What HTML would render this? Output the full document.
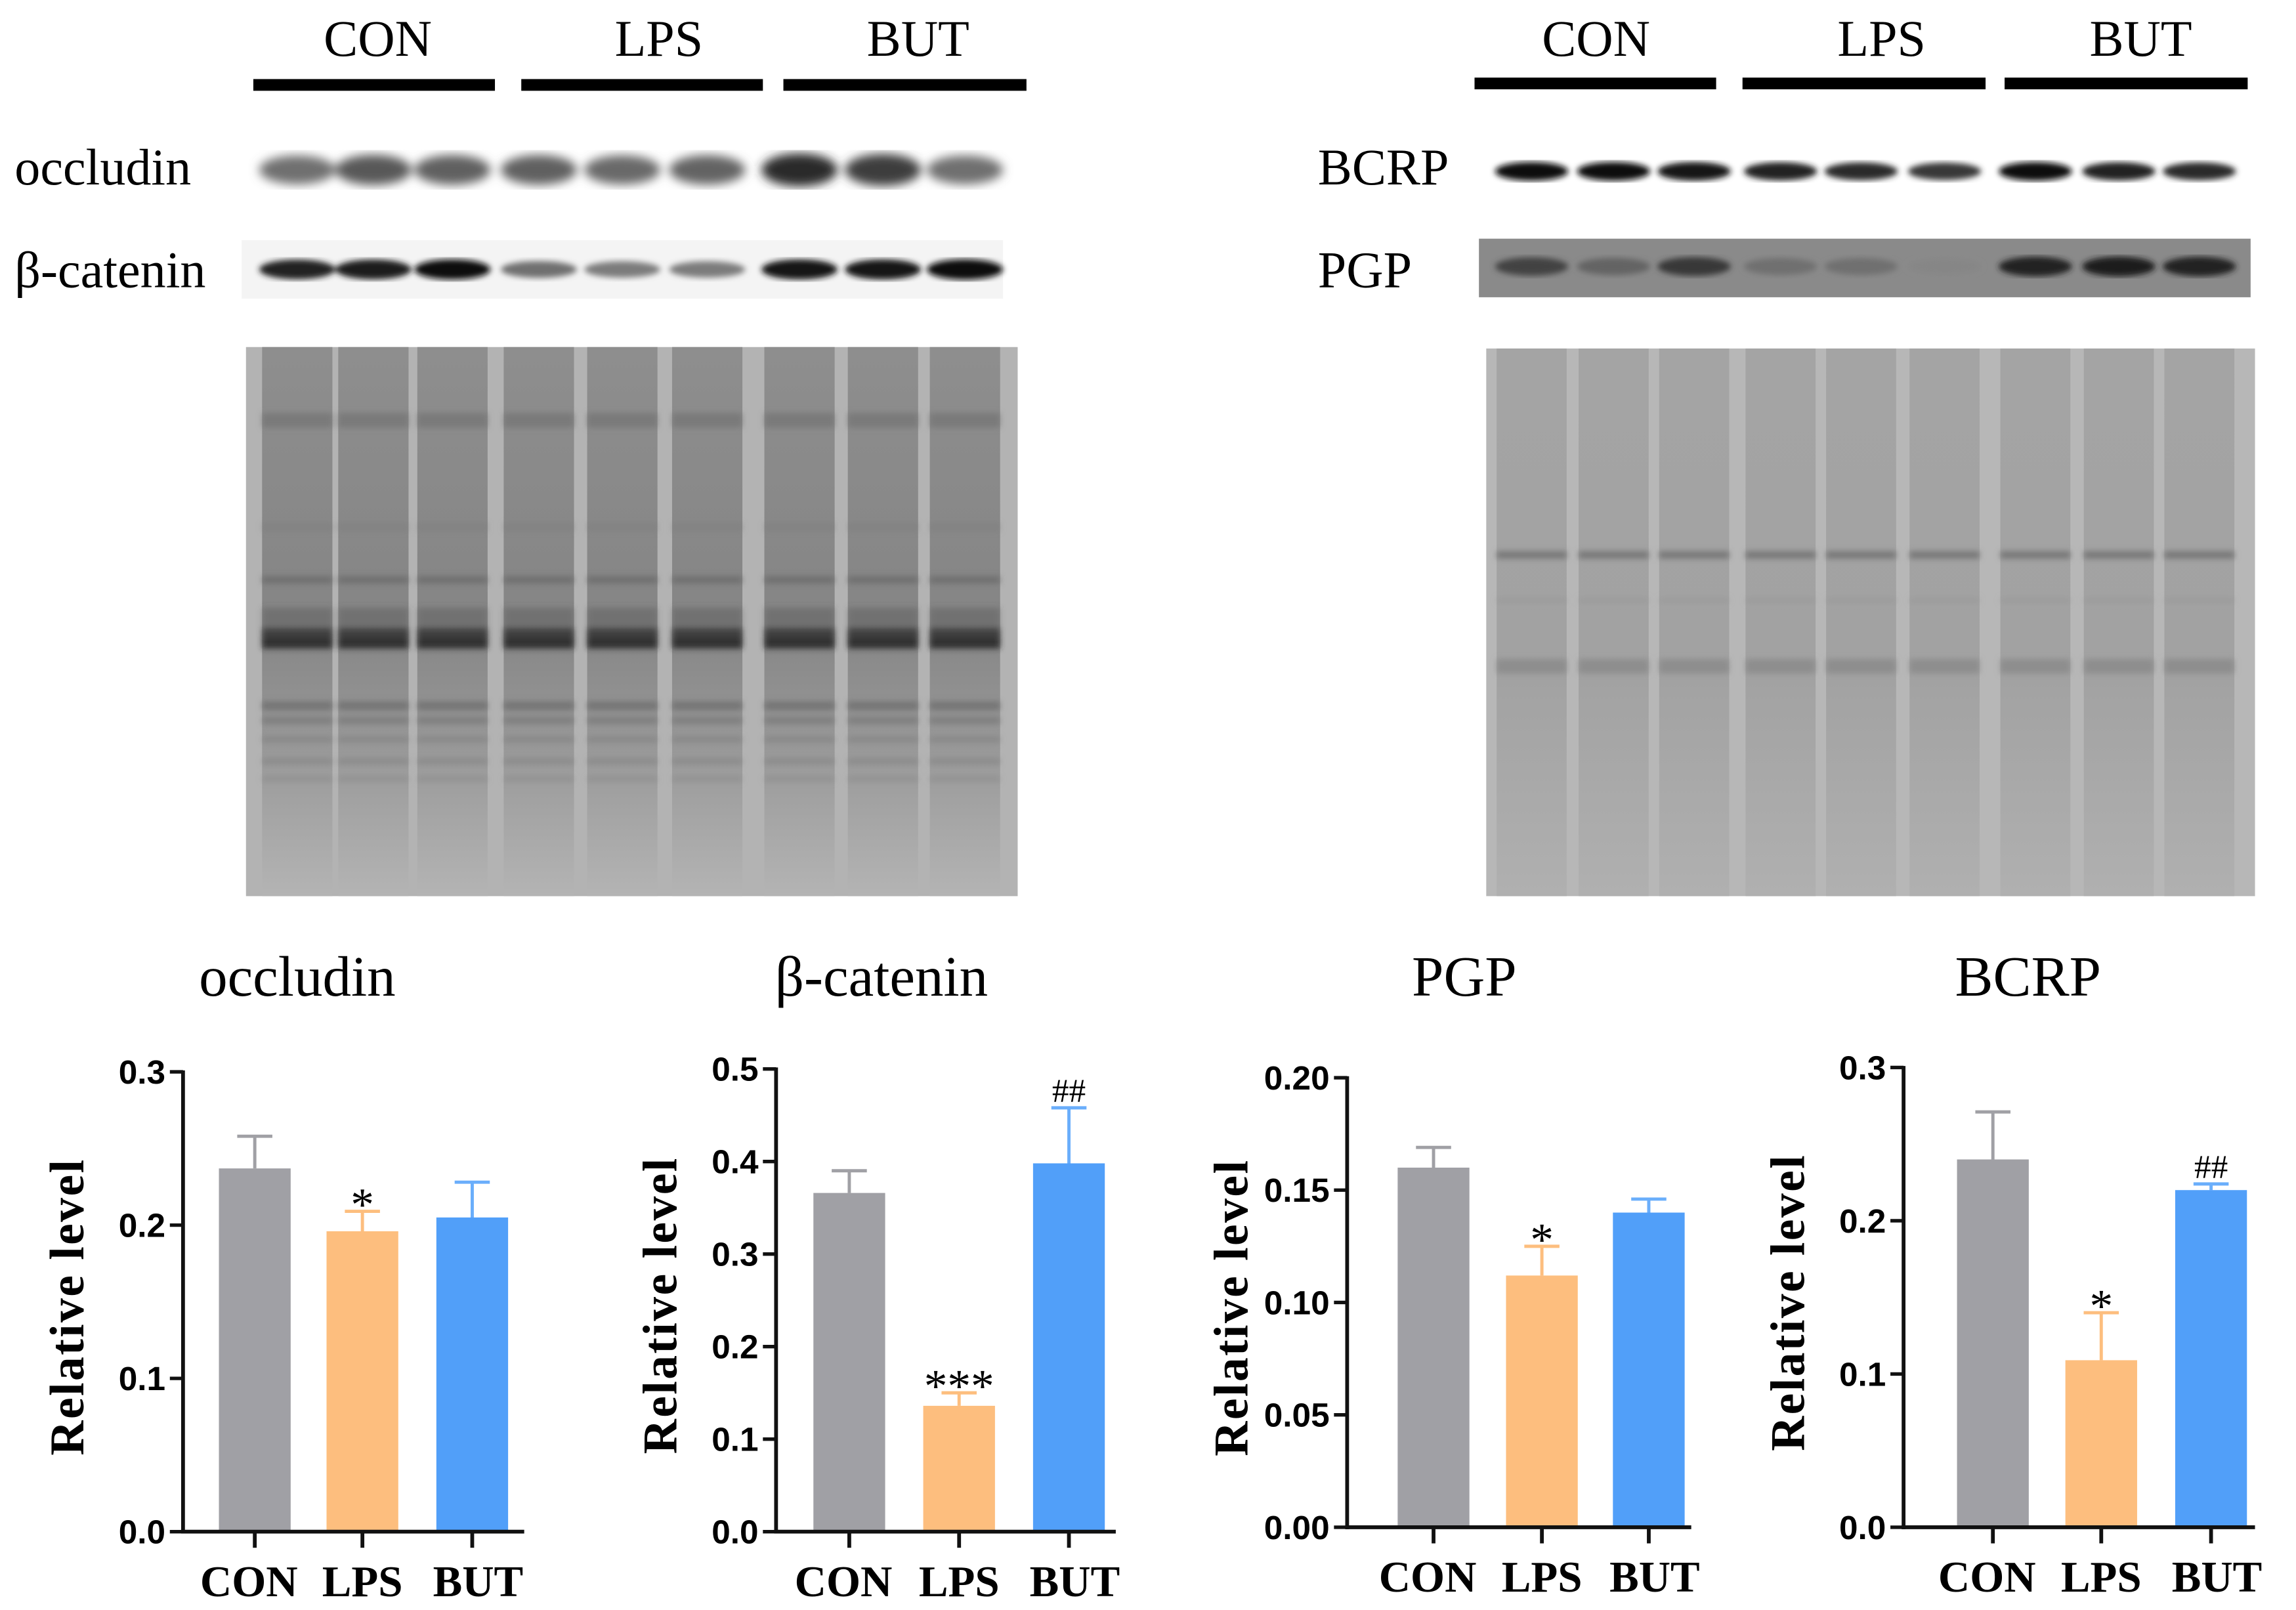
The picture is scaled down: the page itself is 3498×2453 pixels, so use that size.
<!DOCTYPE html>
<html><head><meta charset="utf-8">
<style>
html,body{margin:0;padding:0;background:#fff;}
svg{display:block;}
.serif{font-family:"Liberation Serif",serif;}
.sans{font-family:"Liberation Sans",sans-serif;}
</style></head>
<body>
<svg id="fig" width="3498" height="2453" viewBox="0 0 1568 1099.5" preserveAspectRatio="none" xmlns="http://www.w3.org/2000/svg">
<defs>
<filter id="blur2"><feGaussianBlur stdDeviation="2"/></filter>
<filter id="blur4"><feGaussianBlur stdDeviation="3.5"/></filter>
<linearGradient id="laneL" x1="0" y1="0" x2="0" y2="1">
<stop offset="0" stop-color="#8e8e8e"/><stop offset="0.5" stop-color="#858585"/><stop offset="0.75" stop-color="#9a9a9a"/><stop offset="1" stop-color="#b4b4b4"/></linearGradient>
<linearGradient id="laneR" x1="0" y1="0" x2="0" y2="1">
<stop offset="0" stop-color="#a4a4a4"/><stop offset="0.6" stop-color="#a2a2a2"/><stop offset="1" stop-color="#b0b0b0"/></linearGradient>
</defs>
<rect width="1568" height="1099.5" fill="#fff"/>
<g id="blots"></g>
<g id="charts"></g>
</svg>
<script>
// ===== chart data =====
const categories = ["CON", "LPS", "BUT"];
const occludinValues = [0.237, 0.196, 0.205];
const occludinErrors = [0.021, 0.013, 0.023];
const occludinTicks = ["0.0", "0.1", "0.2", "0.3"];
const cateninValues = [0.366, 0.136, 0.398];
const cateninErrors = [0.024, 0.014, 0.060];
const cateninTicks = ["0.0", "0.1", "0.2", "0.3", "0.4", "0.5"];
const pgpValues = [0.160, 0.112, 0.140];
const pgpErrors = [0.009, 0.013, 0.006];
const pgpTicks = ["0.00", "0.05", "0.10", "0.15", "0.20"];
const bcrpValues = [0.240, 0.109, 0.220];
const bcrpErrors = [0.031, 0.031, 0.004];
const bcrpTicks = ["0.0", "0.1", "0.2", "0.3"];
const occludinMarks = ["", "*", ""];
const cateninMarks = ["", "***", "##"];
const pgpMarks = ["", "*", ""];
const bcrpMarks = ["", "*", "##"];
// band intensities (0-1) per lane
const occludinBands = [0.55, 0.65, 0.62, 0.62, 0.58, 0.6, 0.85, 0.78, 0.55];
const cateninBands = [0.9, 0.92, 0.97, 0.55, 0.5, 0.5, 0.95, 0.95, 1.0];
const bcrpBands = [0.97, 0.97, 0.95, 0.9, 0.85, 0.8, 0.97, 0.9, 0.85];
const pgpBands = [0.75, 0.6, 0.8, 0.55, 0.55, 0.45, 0.9, 0.92, 0.9];

const NS = "http://www.w3.org/2000/svg";
function mk(tag, attrs, parent, text) {
  const e = document.createElementNS(NS, tag);
  for (const k in attrs) e.setAttribute(k, attrs[k]);
  if (text !== undefined) e.textContent = text;
  parent.appendChild(e);
  return e;
}
const colors = ["#a0a0a5", "#fdbe7e", "#519ff9"];
const errColors = ["#a0a0a5", "#fdbe7e", "#6aaefb"];

const chartsG = document.getElementById("charts");
function drawChart(cfg) {
  const g = mk("g", {}, chartsG);
  
  
  const n = cfg.ticks.length - 1;
  const maxV = parseFloat(cfg.ticks[n]);
  const y = v => cfg.y0 - (v / maxV) * (cfg.y0 - cfg.yTop);
  const t = mk("text", {x: cfg.titleX, y: 680, "font-size": 39, "text-anchor": "middle", class: "serif"}, g, cfg.title);
  
  
  const yt = mk("text", {x: 0, y: 0, "font-size": 33, "font-weight": "bold", "text-anchor": "middle", textLength: 202, lengthAdjust: "spacing", class: "serif", transform: `translate(${cfg.ax - 68},${(cfg.yTop + cfg.y0) / 2 + 4}) rotate(-90)`}, g, "Relative  level");
  
  
  // bars
  for (let i = 0; i < categories.length; i++) {
    const cx = cfg.centers[i], bw = 49;
    const top = y(cfg.values[i]), et = y(cfg.values[i] + cfg.errors[i]);
    const eb = mk("path", {d: `M${cx},${top} V${et} M${cx - 12},${et} H${cx + 12}`, stroke: errColors[i], "stroke-width": 2.2, fill: "none"}, g);
    
    
    const r = mk("rect", {x: cx - bw / 2, y: top, width: bw, height: cfg.y0 - top, fill: colors[i]}, g);
    
    
    if (cfg.marks[i]) {
      const isHash = cfg.marks[i][0] === "#";
      const m = mk("text", {x: cx, y: et + (isHash ? -4 : 6), "font-size": isHash ? 23 : 32, "text-anchor": "middle", class: "serif"}, g, cfg.marks[i]);
      
      
    }
    mk("line", {x1: cx, x2: cx, y1: cfg.y0, y2: cfg.y0 + 11, stroke: "#111", "stroke-width": 2.6}, g);
    const xl = mk("text", {x: cx + (i === 0 ? -4 : i === 2 ? 4 : 0), y: cfg.y0 + 44, "font-size": 30, "font-weight": "bold", "text-anchor": "middle", class: "serif"}, g, categories[i]);
    
    
  }
  // axes
  const ya = mk("line", {x1: cfg.ax, x2: cfg.ax, y1: cfg.yTop - 1, y2: cfg.y0 + 1.3, stroke: "#111", "stroke-width": 2.6}, g);
  
  
  const xa = mk("line", {x1: cfg.ax - 1.3, x2: cfg.xEnd, y1: cfg.y0, y2: cfg.y0, stroke: "#111", "stroke-width": 2.6}, g);
  
  
  cfg.ticks.forEach((lab, k) => {
    const yy = y(parseFloat(lab));
    mk("line", {x1: cfg.ax - 9, x2: cfg.ax, y1: yy, y2: yy, stroke: "#111", "stroke-width": 2.4}, g);
    const tl = mk("text", {x: cfg.ax - 12, y: yy + 8, "font-size": 23, "font-weight": "bold", "text-anchor": "end", class: "sans"}, g, lab);
    
    
  });
}
drawChart({name: "occludin-chart", title: "occludin", titleX: 203, ax: 125, yTop: 732, y0: 1046, xEnd: 358, centers: [174, 247.5, 322.5], values: occludinValues, errors: occludinErrors, ticks: occludinTicks, marks: occludinMarks});
drawChart({name: "beta-catenin-chart", title: "β-catenin", titleX: 602, ax: 530, yTop: 730, y0: 1046, xEnd: 762, centers: [580, 655, 730], values: cateninValues, errors: cateninErrors, ticks: cateninTicks, marks: cateninMarks});
drawChart({name: "pgp-chart", title: "PGP", titleX: 1000, ax: 920, yTop: 736, y0: 1043, xEnd: 1155, centers: [979, 1053, 1126], values: pgpValues, errors: pgpErrors, ticks: pgpTicks, marks: pgpMarks});
drawChart({name: "bcrp-chart", title: "BCRP", titleX: 1385, ax: 1300, yTop: 729, y0: 1043, xEnd: 1540, centers: [1361, 1435, 1510], values: bcrpValues, errors: bcrpErrors, ticks: bcrpTicks, marks: bcrpMarks});

// ===== blots =====
const blotsG = document.getElementById("blots");
function groupHeader(labels, xs, bars, barY) {
  labels.forEach((l, i) => {
    const t = mk("text", {x: xs[i], y: 38, "font-size": 35, "text-anchor": "middle", class: "serif"}, blotsG, l);
    
    
    const b = mk("rect", {x: bars[i][0], y: barY, width: bars[i][1] - bars[i][0], height: 8, fill: "#000"}, blotsG);
    
    
  });
}
groupHeader(categories, [258, 450, 627], [[173, 338], [356, 521], [535, 701]], 54);
groupHeader(categories, [1090, 1285, 1462], [[1007, 1172], [1190, 1356], [1369, 1535]], 53);

function label(txt, x, yb) {
  const t = mk("text", {x: x, y: yb, "font-size": 35, class: "serif"}, blotsG, txt);
  
  
}
label("occludin", 10, 126);
label("β-catenin", 10, 196);
label("BCRP", 900, 126);
label("PGP", 900, 196);

function bandStrip(name, x0, x1, yc, bg, centers, vals, h, w, blur) {
  const g = mk("g", {}, blotsG);
  
  
  if (bg) mk("rect", {x: x0, y: yc - 20, width: x1 - x0, height: 40, fill: bg}, g);
  const gg = mk("g", {filter: blur}, g);
  centers.forEach((cx, i) => {
    const v = vals[i];
    const c = Math.round(235 - v * 225);
    mk("ellipse", {cx: cx, cy: yc, rx: w / 2, ry: h * (0.6 + 0.4 * v) / 2, fill: `rgb(${c},${c},${c})`}, gg);
  });
}
const lanesL = [203, 255, 309, 368, 425, 483, 546, 603, 659];
const lanesR = [1046, 1102, 1157, 1216, 1271, 1328, 1390, 1447, 1502];
bandStrip("occludin-blot", 175, 685, 116, null, lanesL, occludinBands, 24, 52, "url(#blur4)");
bandStrip("beta-catenin-blot", 165, 685, 184, "#f4f4f4", lanesL, cateninBands, 14, 52, "url(#blur2)");
bandStrip("bcrp-blot", 1015, 1530, 117, null, lanesR, bcrpBands, 13, 50, "url(#blur2)");
(function(){
  mk("rect", {x: 1010, y: 163, width: 527, height: 40, fill: "#8a8a8a"}, blotsG);
})();
bandStrip("pgp-blot", 1010, 1537, 182, null, lanesR, pgpBands, 14, 50, "url(#blur2)");

function gel(name, x0, y0, x1, y1, lanes, gapFill, laneFill, bands) {
  const g = mk("g", {}, blotsG);
  
  
  mk("rect", {x: x0, y: y0, width: x1 - x0, height: y1 - y0, fill: gapFill}, g);
  const lw = (x1 - x0) / lanes.length * 0.82;
  lanes.forEach(cx => {
    mk("rect", {x: cx - lw / 2, y: y0, width: lw, height: y1 - y0, fill: laneFill}, g);
  });
  const bg = mk("g", {filter: "url(#blur2)"}, g);
  bands.forEach(b => {
    lanes.forEach(cx => {
      mk("rect", {x: cx - lw / 2, y: b[0] - b[1] / 2, width: lw, height: b[1], fill: b[2], opacity: b[3]}, bg);
    });
  });
}
gel("total-protein-gel-left", 168, 237, 695, 612, lanesL, "#b3b3b3", "url(#laneL)",
  [[287, 10, "#6e6e6e", 0.6], [360, 6, "#7a7a7a", 0.4], [396, 5, "#606060", 0.6], [436, 14, "#2a2a2a", 0.9], [425, 20, "#555", 0.4],
   [482, 6, "#6a6a6a", 0.7], [492, 5, "#707070", 0.6], [505, 4, "#777", 0.5], [520, 4, "#7a7a7a", 0.5], [532, 4, "#808080", 0.4]]);
gel("total-protein-gel-right", 1015, 238, 1540, 612, lanesR, "#b7b7b7", "url(#laneR)",
  [[379, 5, "#6a6a6a", 0.8], [410, 4, "#909090", 0.4], [455, 10, "#808080", 0.6]]);
</script>
</body></html>
